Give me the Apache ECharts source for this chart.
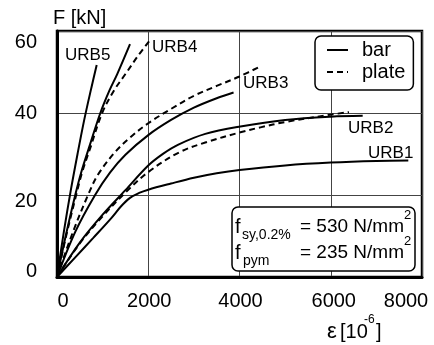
<!DOCTYPE html>
<html><head><meta charset="utf-8">
<script src="https://cdn.jsdelivr.net/npm/echarts@6/dist/echarts.min.js"></script>
<style>html,body{margin:0;padding:0;background:#fff}#c{width:434px;height:345px}</style>
</head><body><div id="c"></div>
<script>
// strain [10^-6] and force [kN]
const urb1BarStrain = [0, 400, 800, 1200, 1400, 1600, 1800, 2000, 2500, 3000, 3500, 4000, 5000, 6000, 7000, 7700];
const urb1BarForce  = [0, 4.8, 9.6, 14.5, 17.2, 19.3, 20.5, 21.3, 22.8, 24.2, 25.3, 26.1, 27.2, 27.9, 28.3, 28.4];

const urb2BarStrain = [0, 500, 1000, 1500, 2000, 2330, 2660, 3250, 4020, 5000, 6000, 6700];
const urb2BarForce  = [0, 8.4, 15.2, 21.2, 27.2, 30.1, 32.3, 34.9, 36.7, 38.3, 39.1, 39.3];
const urb2PlateStrain = [0, 500, 1000, 1500, 2000, 2660, 3250, 4020, 4460, 5000, 6000, 6400];
const urb2PlateForce  = [0, 8.2, 14.8, 20.6, 25.6, 30.3, 32.8, 35.3, 36.5, 37.8, 39.6, 40.2];

const urb3BarStrain = [0, 400, 835, 1165, 1500, 2000, 2500, 3000, 3500, 3870];
const urb3BarForce  = [0, 11.0, 20.0, 25.5, 29.8, 34.6, 38.3, 41.3, 43.6, 45.0];
const urb3PlateStrain = [0, 350, 700, 900, 1275, 1600, 2000, 2500, 3000, 3500, 4000, 4460];
const urb3PlateForce  = [0, 11.0, 20.5, 25.0, 30.5, 34.0, 37.5, 41.0, 44.2, 46.6, 48.9, 51.4];

const urb4BarStrain = [0, 200, 400, 530, 700, 950, 1150, 1320, 1600];
const urb4BarForce  = [0, 10.5, 20.0, 25.5, 31.5, 40.0, 45.5, 49.5, 56.8];
const urb4PlateStrain = [0, 200, 420, 550, 730, 990, 1250, 1500, 1780, 2040];
const urb4PlateForce  = [0, 10.0, 20.0, 25.5, 31.5, 40.0, 45.5, 49.5, 54.0, 57.8];

const urb5BarStrain = [0, 150, 300, 450, 600, 750, 870];
const urb5BarForce  = [0, 11.0, 21.0, 30.0, 38.5, 46.0, 51.7];

const specimenNames = ['URB1', 'URB2', 'URB3', 'URB4', 'URB5'];
const legendNames = ['bar', 'plate'];

const FONT = '"Liberation Sans", Arial, Helvetica, sans-serif';

function pairs(xs, ys) { return xs.map((x, i) => [x, ys[i]]); }

const curves = [
  { kind: 'bar', x: urb1BarStrain, y: urb1BarForce },
  { kind: 'bar', x: urb2BarStrain, y: urb2BarForce },
  { kind: 'plate', x: urb2PlateStrain, y: urb2PlateForce },
  { kind: 'bar', x: urb3BarStrain, y: urb3BarForce },
  { kind: 'plate', x: urb3PlateStrain, y: urb3PlateForce },
  { kind: 'bar', x: urb4BarStrain, y: urb4BarForce },
  { kind: 'plate', x: urb4PlateStrain, y: urb4PlateForce },
  { kind: 'bar', x: urb5BarStrain, y: urb5BarForce }
];

const series = curves.map(c => ({
  type: 'line',
  name: c.kind,
  data: pairs(c.x, c.y),
  symbol: 'none',
  showSymbol: false,
  smooth: 0.35,
  lineStyle: { color: '#000', width: 2, type: c.kind === 'plate' ? [6, 4] : 'solid' },
  itemStyle: { color: '#000' },
  z: 3
}));

const yRich = {
  t60: { fontSize: 20, fontFamily: FONT, color: '#000', padding: [22, 0, 0, 0] },
  t40: { fontSize: 20, fontFamily: FONT, color: '#000' },
  t20: { fontSize: 20, fontFamily: FONT, color: '#000', padding: [12, 0, 0, 0] },
  t0:  { fontSize: 20, fontFamily: FONT, color: '#000', padding: [0, 0, 12, 0] }
};
const xRich = {
  x0:    { fontSize: 20, fontFamily: FONT, color: '#000', padding: [0, 0, 0, 12] },
  x2000: { fontSize: 20, fontFamily: FONT, color: '#000', padding: [0, 0, 0, 2] },
  x4000: { fontSize: 20, fontFamily: FONT, color: '#000', padding: [0, 0, 0, 2] },
  x6000: { fontSize: 20, fontFamily: FONT, color: '#000', padding: [0, 0, 0, 6] },
  x8000: { fontSize: 20, fontFamily: FONT, color: '#000', padding: [0, 32, 0, 0] }
};

const labelFont = 17;
function txt(x, y, text, size) {
  return {
    type: 'text', x: x, y: y,
    style: { text: text, fontSize: size, fontFamily: FONT, fill: '#000', align: 'left', verticalAlign: 'middle' },
    z: 10
  };
}

const chart = echarts.init(document.getElementById('c'), null, { renderer: 'canvas' });
chart.setOption({
  animation: false,
  backgroundColor: '#fff',
  grid: { left: 57, right: 12, top: 31, bottom: 68, show: true, borderColor: '#000', borderWidth: 2.5, backgroundColor: 'transparent' },
  xAxis: {
    type: 'value', min: 0, max: 8000, interval: 2000,
    axisLine: { show: true, onZero: false, lineStyle: { color: '#000', width: 3 } },
    axisTick: { show: false },
    splitLine: { show: true, lineStyle: { color: '#444', width: 1 } },
    axisLabel: { margin: 14, formatter: v => '{x' + v + '|' + v + '}', rich: xRich }
  },
  yAxis: {
    type: 'value', min: 0, max: 60, interval: 20,
    axisLine: { show: true, onZero: false, lineStyle: { color: '#000', width: 3 } },
    axisTick: { show: false },
    splitLine: { show: true, lineStyle: { color: '#444', width: 1 } },
    axisLabel: { margin: 20, formatter: v => '{t' + v + '|' + v + '}', rich: yRich }
  },
  legend: {
    data: legendNames,
    orient: 'vertical', left: 315, top: 36,
    itemWidth: 21, itemHeight: 20, itemGap: 2,
    backgroundColor: '#fff', borderColor: '#000', borderWidth: 1.5, borderRadius: 6,
    padding: [4, 8, 8, 11],
    selectedMode: false,
    itemStyle: { color: 'rgba(0,0,0,0)', borderWidth: 0, opacity: 0 },
    textStyle: { fontSize: 20, fontFamily: FONT, color: '#000', padding: [0, 0, 0, 9] },
    z: 10
  },
  series: series,
  graphic: [
    txt(53, 18, 'F [kN]', 20),
    txt(65, 55, specimenNames[4], labelFont),
    txt(152, 47, specimenNames[3], labelFont),
    txt(243, 83, specimenNames[2], labelFont),
    txt(348, 128, specimenNames[1], labelFont),
    txt(368, 153, specimenNames[0], labelFont),
    {
      type: 'rect', shape: { x: 232, y: 207, width: 183, height: 64, r: 6 },
      style: { fill: '#fff', stroke: '#000', lineWidth: 1.5 }, z: 9
    },
    txt(235, 227, 'f', 20),
    txt(242, 235, 'sy,0.2%', 14),
    txt(300, 227, '= 530 N/mm', 19),
    txt(404, 215, '2', 13),
    txt(235, 253, 'f', 20),
    txt(243, 261, 'pym', 14),
    txt(300, 253, '= 235 N/mm', 19),
    txt(404, 241, '2', 13),
    txt(327, 332, 'ε', 22),
    txt(340, 332, '[10', 20),
    txt(364, 320, '-6', 12),
    txt(376, 332, ']', 20)
  ]
});
</script>
</body></html>
